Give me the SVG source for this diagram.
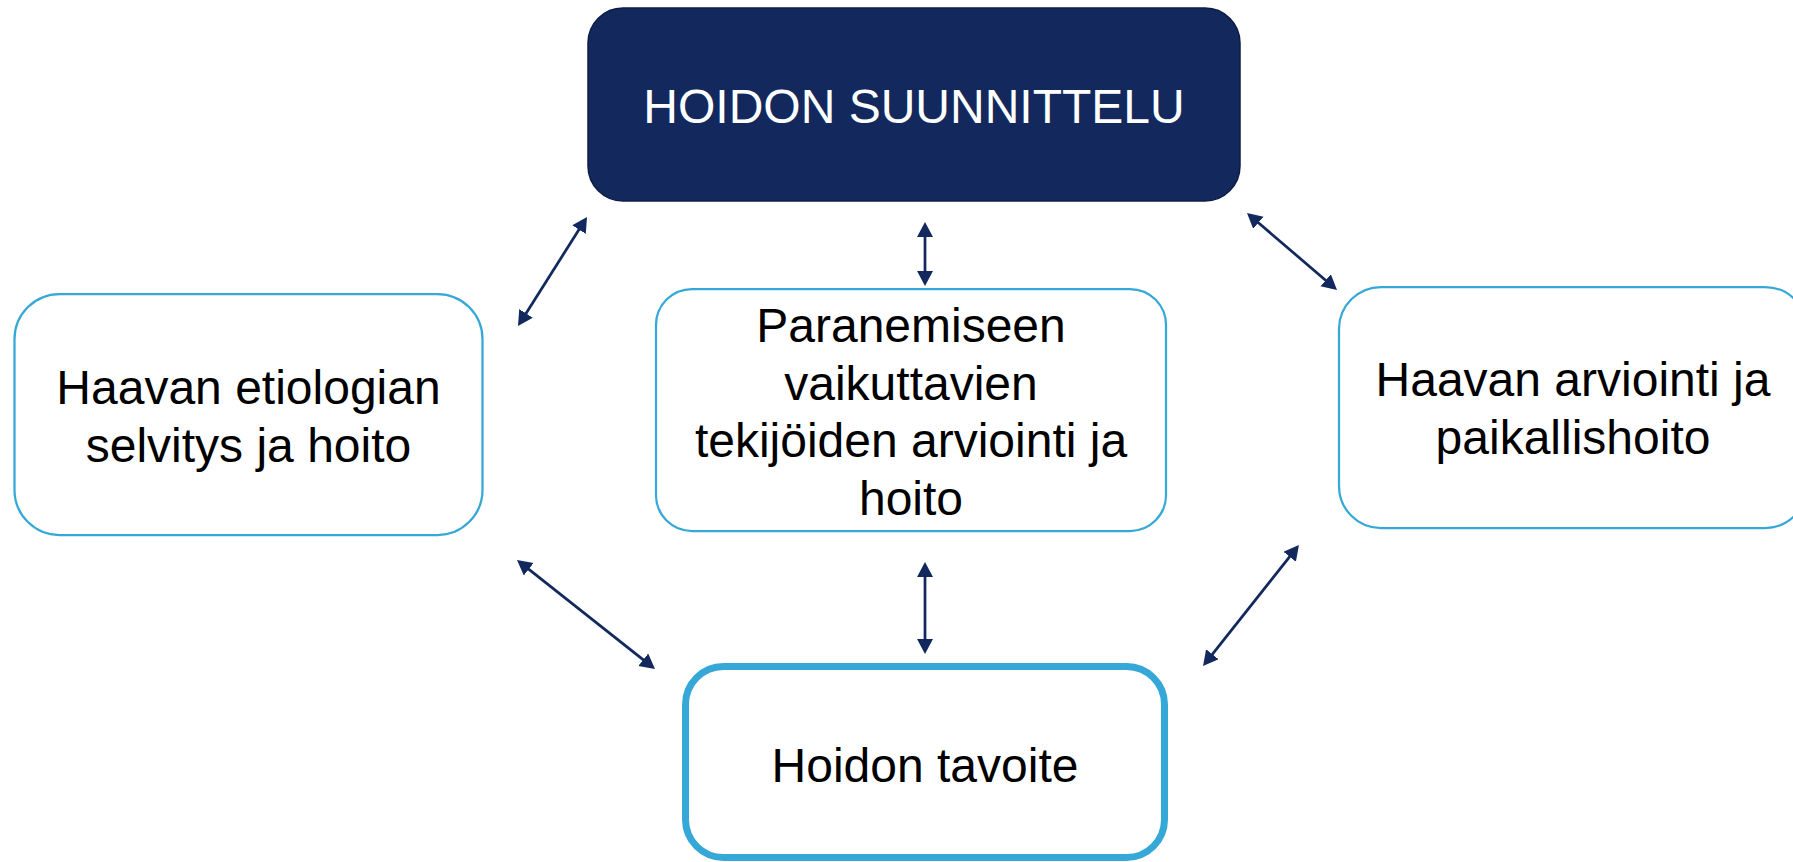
<svg xmlns="http://www.w3.org/2000/svg" width="1793" height="862" viewBox="0 0 1793 862">
<style>
.lbl{font-family:"Liberation Sans",Arial,sans-serif;font-size:48px;fill:#000;text-anchor:middle}
.box{fill:#fff;stroke:#35a8d8;stroke-width:2.25}
.conn{stroke:#13295e;stroke-width:2.75;fill:none;marker-start:url(#ah);marker-end:url(#ah)}
</style>
<defs>
<marker id="ah" markerUnits="userSpaceOnUse" markerWidth="17" markerHeight="17" refX="3" refY="8" orient="auto-start-reverse" viewBox="0 0 17 17">
<path d="M0,0 L15,8 L0,16 z" fill="#13295e"/>
</marker>
</defs>
<rect width="1793" height="862" fill="#fff"/>
<g id="connectors">
<line class="conn" x1="580.6" y1="227.1" x2="524.4" y2="315.9"/>
<line class="conn" x1="925" y1="234" x2="925" y2="274"/>
<line class="conn" x1="1256.1" y1="220.8" x2="1327.9" y2="282.2"/>
<line class="conn" x1="526.4" y1="567.4" x2="645.6" y2="661.6"/>
<line class="conn" x1="925" y1="574" x2="925" y2="642"/>
<line class="conn" x1="1291.5" y1="554.4" x2="1210.5" y2="656.6"/>
</g>
<g id="node-suunnittelu">
<rect x="588" y="8" width="652" height="193" rx="35" fill="#13295e" stroke="#0c1c44" stroke-width="1.5"/>
<text class="lbl" x="914" y="123" style="fill:#fff">HOIDON SUUNNITTELU</text>
</g>
<g id="node-etiologia">
<rect class="box" x="14.5" y="294" width="468" height="241" rx="45"/>
<text class="lbl" x="248.5" y="404">Haavan etiologian</text>
<text class="lbl" x="248.5" y="462">selvitys ja hoito</text>
</g>
<g id="node-tekijat">
<rect class="box" x="656" y="289" width="510" height="242" rx="36"/>
<text class="lbl" x="911" y="342">Paranemiseen</text>
<text class="lbl" x="911" y="399.5">vaikuttavien</text>
<text class="lbl" x="911" y="457">tekijöiden arviointi ja</text>
<text class="lbl" x="911" y="514.5">hoito</text>
</g>
<g id="node-paikallishoito">
<rect class="box" x="1339" y="287" width="468" height="241" rx="42"/>
<text class="lbl" x="1573" y="396">Haavan arviointi ja</text>
<text class="lbl" x="1573" y="454">paikallishoito</text>
</g>
<g id="node-tavoite">
<rect x="685.5" y="666.5" width="479" height="191" rx="38" fill="#fff" stroke="#35a8d8" stroke-width="7"/>
<text class="lbl" x="925" y="782">Hoidon tavoite</text>
</g>
</svg>
